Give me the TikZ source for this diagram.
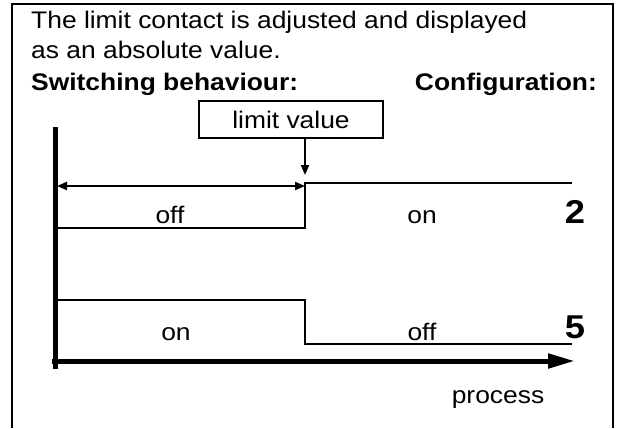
\documentclass[tikz,border=0pt]{standalone}
\usepackage{fontspec}
\setmainfont{Liberation Sans}[FakeStretch=1.1]
\usetikzlibrary{positioning,arrows.meta}

\begin{document}
\begin{tikzpicture}[x=1pt,y=-1pt,
      >={Triangle[length=10pt,width=8pt]},
      txt/.style={inner sep=0pt,font=\fontsize{24}{30}\selectfont},
      negr/.style={txt,font=\fontsize{24}{30}\selectfont\bfseries},
      cifra/.style={inner sep=0pt,font=\fontsize{33}{38}\selectfont\bfseries},
      caja/.style={draw,line width=2pt,minimum width=184pt,minimum height=37pt,
                   inner sep=0pt,font=\fontsize{24}{30}\selectfont},
      senal/.style={line width=2pt},
      eje/.style={line width=5pt},
      fl/.style={line width=2pt}]
    \useasboundingbox (0,0) rectangle (617,428);
    % marco
    \draw[line width=2pt] (12,428) |- (613,4) -- (613,428);
    \node[txt,anchor=base west] (l1) at (31,29) {The limit contact is adjusted and displayed};
    \node[txt,anchor=base west] (l2) at (31,59) {as an absolute value.};
    \node[negr,anchor=base west] (sw) at (31,90) {Switching behaviour:};
    \node[negr,anchor=base east] (cf) at (597,90) {Configuration:};
    \node[caja] (lv) at (291,119.5) {limit value};
    % ejes
    \coordinate (ya) at (55,127);
    \coordinate (yb) at (55,369);
    \coordinate (xa) at (52,361);
    \coordinate (xb) at (575,361);
    \draw[eje] (ya) -- (yb);
    \draw[eje,-{Triangle[length=27pt,width=14pt]}] (xa) -- (xb);
    % configuracion 2
    \coordinate (p1) at (305,183);
    \draw[senal] (57,228) -| (p1) -- (572,183);
    \draw[fl,<->] (57,186) -- (305,186);
    \draw[fl,->] (lv.south -| p1) -- (305,175);
    \node[txt,anchor=base] (off1) at (170,223) {off};
    \node[txt,anchor=base] (on1) at (422,223) {on};
    \node[cifra,anchor=base] (c2) at (575,223) {2};
    % configuracion 5
    \coordinate (p2) at (305,300);
    \draw[senal] (57,300) -- (p2) |- (572,344);
    \node[txt,anchor=base] (on2) at (176,340) {on};
    \node[txt,anchor=base] (off2) at (422,340) {off};
    \node[cifra,anchor=base] (c5) at (575,338) {5};
    \node[txt,anchor=base] (pr) at (498,403) {process};
  \end{tikzpicture}
\end{document}
